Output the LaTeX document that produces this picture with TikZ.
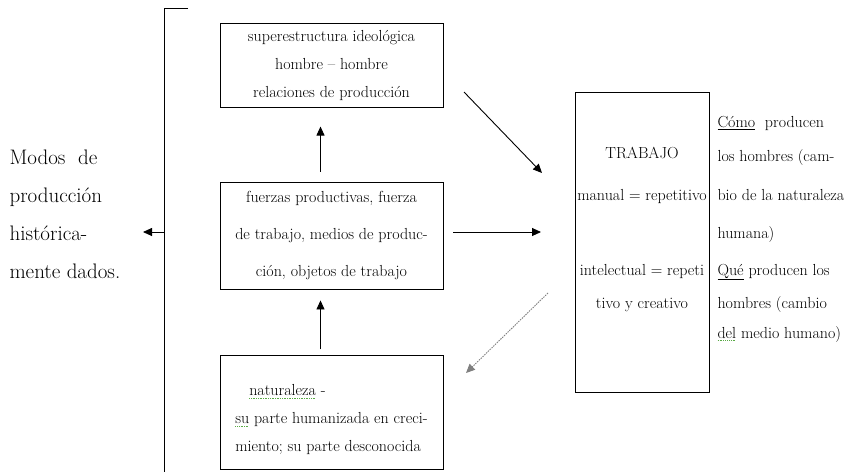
\documentclass[tikz,border=0pt]{standalone}
\usepackage{xcolor}
\usepackage{tikz}
\usetikzlibrary{arrows.meta,positioning}
\definecolor{spellgreen}{RGB}{90,170,70}
\newsavebox{\spellbox}
\newcommand{\spellwave}[1]{\sbox{\spellbox}{#1}\rlap{\usebox{\spellbox}}%
  \textcolor{spellgreen}{\xleaders\hbox to 1.7pt{\rule[-3pt]{1pt}{0.7pt}\hfil}\hskip\wd\spellbox}}

\begin{document}
\begin{tikzpicture}[x=1pt, y=-1pt, >={Triangle[length=9pt,width=8pt]},
  stagebox/.style={draw, line width=0.9pt, minimum width=223pt, align=center, inner sep=0pt},
  boxfont/.style={font=\fontsize{16}{#1}\selectfont},
  arrowline/.style={->, line width=0.9pt}]
\useasboundingbox (0,0) rectangle (853,472);
% three stages of production
\node[stagebox, minimum height=107pt, boxfont=37] (fuerzas) at (331.5,235.5)
  {fuerzas productivas, fuerza\\de trabajo, medios de produc-\\ci\'on, objetos de trabajo};
\node[stagebox, minimum height=84pt, boxfont=28, above=74pt of fuerzas] (superestr)
  {superestructura ideol\'ogica\\hombre -- hombre\\relaciones de producci\'on};
\node[stagebox, minimum height=114pt, boxfont=28, below=66pt of fuerzas, align=left] (natur)
  {\rule{0pt}{25pt}\hspace*{14pt}\spellwave{naturaleza} -\\\spellwave{su} parte humanizada en creci-\\miento; su parte desconocida};
% trabajo
\node[draw, line width=0.9pt, minimum width=134pt, minimum height=300pt] (trabajo) at (642,242) {};
\node[boxfont=33, align=center] (trabtxt) at (642,229)
  {TRABAJO\\[9pt]manual = repetitivo\\[42pt]intelectual = repeti\\tivo y creativo};
\node[boxfont=30, align=left, anchor=west] (como) at (714,229)
  {\underline{C\'omo}\ \ producen\\[4pt]los hombres (cam-\\[9pt]bio de la naturaleza\\[8pt]humana)\\[7pt]\underline{Qu\'e} producen los\\[3pt]hombres (cambio\\\spellwave{del} medio humano)};
% left side
\node[font=\fontsize{21}{38}\selectfont, align=left, anchor=west] (modos) at (6,214)
  {Modos\ \ de\\producci\'on\\hist\'orica-\\mente dados.};
\coordinate (brtop) at (188,8);
\coordinate (brcorner) at (164,8);
\coordinate (brbottom) at (164,472);
\coordinate (brmid) at (164,232);
\coordinate (brtip) at (143,232);
\draw[line width=0.9pt] (brtop) -- (brcorner) -- (brbottom);
\draw[arrowline] (brmid) -- (brtip);
% connectors
\draw[arrowline, shorten <=10pt, shorten >=19pt] ([xshift=-11pt]fuerzas.north) -- ([xshift=-11pt]superestr.south);
\draw[arrowline, shorten <=6pt, shorten >=11pt] ([xshift=-11pt]natur.north) -- ([xshift=-11pt]fuerzas.south);
\coordinate (hstart) at (453,232);
\coordinate (hend) at (541,232);
\draw[arrowline] (hstart) -- (hend);
\coordinate (dstart) at (464,92);
\coordinate (dend) at (542,173);
\draw[arrowline] (dstart) -- (dend);
\coordinate (gstart) at (548,293);
\coordinate (gend) at (466,373);
\draw[->, line width=0.9pt, draw=gray, dash pattern=on 1.5pt off 1pt] (gstart) -- (gend);
\end{tikzpicture}
\end{document}
